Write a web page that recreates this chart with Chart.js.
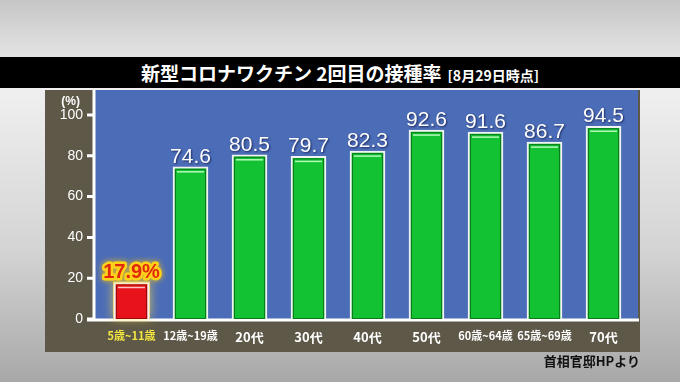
<!DOCTYPE html>
<html>
<head>
<meta charset="utf-8">
<script src="https://cdn.jsdelivr.net/npm/chart.js@4.4.0/dist/chart.umd.min.js"></script>
<style>
  html, body { margin: 0; padding: 0; }
  body {
    width: 680px; height: 382px; position: relative; overflow: hidden;
    background: linear-gradient(#c6c6c6 0px, #e4e4e4 57px, #f0f0f0 88px, #d4d4d4 250px, #a8a8a8 382px);
    font-family: "Noto Sans CJK JP", "Noto Sans", sans-serif;
  }
  #titleBar {
    position: absolute; left: 0; top: 57px; width: 680px; height: 31px;
    background: #000; color: #fff; text-align: center;
    font-weight: bold; font-size: 19px; line-height: 31px;
  }
  #titleBar small { font-size: 14px; margin-left: 6px; }
  #source {
    position: absolute; right: 40px; top: 351px;
    font-size: 13px; font-weight: bold; color: #111;
  }
  #chartBox { position: absolute; left: 0; top: 0; width: 680px; height: 382px; }
</style>
</head>
<body>
<div id="chartBox"><canvas id="vaxChart"></canvas></div>
<div id="titleBar">新型コロナワクチン 2回目の接種率<small>[8月29日時点]</small></div>
<div id="source">首相官邸HPより</div>

<script>
/* ------------------------------
   DATA
--------------------------------*/

const categories = ["5歳~11歳", "12歳~19歳", "20代", "30代", "40代", "50代", "60歳~64歳", "65歳~69歳", "70代"];
const rates = [17.9, 74.6, 80.5, 79.7, 82.3, 92.6, 91.6, 86.7, 94.5];
const yTicks = [0, 20, 40, 60, 80, 100];

const GREEN = "#12c232";
const RED = "#e8121a";

/* ------------------------------
   BACKGROUND PANELS + AXIS LINES
--------------------------------*/

const panelPlugin = {
    id: "panels",
    beforeDraw(chart) {
        const { ctx, chartArea: a } = chart;
        const yScale = chart.scales.y;
        ctx.save();
        // olive panel behind axes
        ctx.fillStyle = "#5d5848";
        ctx.fillRect(45, 90, 595, 262);
        // blue plot panel
        ctx.fillStyle = "#4b6cb7";
        ctx.fillRect(a.left - 7, 90, a.right - a.left + 12, a.bottom - 90);
        // axis lines
        ctx.strokeStyle = "#ffffff";
        ctx.lineWidth = 3;
        ctx.beginPath();
        ctx.moveTo(a.left - 8, 90);
        ctx.lineTo(a.left - 8, a.bottom + 1);
        ctx.moveTo(a.left - 15, a.bottom + 1);
        ctx.lineTo(a.right + 6, a.bottom + 1);
        yTicks.forEach(v => {
            const y = yScale.getPixelForValue(v);
            ctx.moveTo(a.left - 15, y);
            ctx.lineTo(a.left - 8, y);
        });
        ctx.stroke();
        // (%) unit
        ctx.fillStyle = "#ffffff";
        ctx.font = "bold 12px 'Liberation Sans', Arial, sans-serif";
        ctx.textAlign = "right";
        ctx.textBaseline = "middle";
        ctx.fillText("(%)", a.left - 22, yScale.getPixelForValue(100) - 13);
        ctx.restore();
    },
    beforeDatasetsDraw(chart) {
        // yellow glow around the highlighted bar
        const ctx = chart.ctx;
        const bar = chart.getDatasetMeta(0).data[0];
        ctx.save();
        ctx.shadowColor = "rgba(255, 220, 60, 0.9)";
        ctx.shadowBlur = 10;
        ctx.fillStyle = "rgba(255, 230, 120, 0.8)";
        ctx.fillRect(bar.x - bar.width / 2 - 1, bar.y - 1, bar.width + 2, bar.base - bar.y);
        ctx.restore();
    },
    afterDatasetsDraw(chart) {
        const ctx = chart.ctx;
        ctx.save();
        chart.getDatasetMeta(0).data.forEach((bar, i) => {
            const left = bar.x - bar.width / 2;
            // inner edge + highlight stripe
            ctx.strokeStyle = i === 0 ? "#9a0a0a" : "#0a7a1c";
            ctx.lineWidth = 1;
            ctx.strokeRect(left + 2.5, bar.y + 2.5, bar.width - 5, bar.base - bar.y - 3);
            ctx.strokeStyle = i === 0 ? "rgba(255,210,210,0.9)" : "rgba(200,255,200,0.9)";
            ctx.lineWidth = 1.5;
            ctx.beginPath();
            ctx.moveTo(left + 4, bar.y + 5);
            ctx.lineTo(left + bar.width - 4, bar.y + 5);
            ctx.stroke();

            // value label
            ctx.textAlign = "center";
            ctx.textBaseline = "alphabetic";
            if (i === 0) {
                ctx.font = "bold 20px 'Liberation Sans', Arial, sans-serif";
                ctx.lineJoin = "round";
                ctx.shadowColor = "rgba(255, 200, 0, 0.9)";
                ctx.shadowBlur = 6;
                ctx.strokeStyle = "#ffd21a";
                ctx.lineWidth = 5;
                ctx.strokeText(rates[i] + "%", bar.x, bar.y - 4);
                ctx.shadowBlur = 0;
                ctx.fillStyle = "#e0280e";
                ctx.fillText(rates[i] + "%", bar.x, bar.y - 4);
            } else {
                ctx.font = "21px 'Liberation Sans', Arial, sans-serif";
                ctx.shadowColor = "rgba(0,0,40,0.6)";
                ctx.shadowBlur = 2;
                ctx.shadowOffsetX = 1;
                ctx.shadowOffsetY = 1;
                ctx.fillStyle = "#ffffff";
                ctx.fillText(rates[i].toFixed(1), bar.x, bar.y - 4);
                ctx.shadowColor = "transparent";
                ctx.shadowOffsetX = 0;
                ctx.shadowOffsetY = 0;
            }
        });
        ctx.restore();
    }
};

/* ------------------------------
   CHART
--------------------------------*/

let vaxCtx = document.getElementById("vaxChart");

let vaxChart = new Chart(vaxCtx, {
    type: "bar",
    data: {
        labels: categories,
        datasets: [{
            data: rates,
            backgroundColor: rates.map((v, i) => i === 0 ? RED : GREEN),
            borderColor: "#f2f2f2",
            borderWidth: 2,
            barThickness: 35
        }]
    },
    options: {
        responsive: true,
        maintainAspectRatio: false,
        animation: false,
        layout: { padding: { left: 45, right: 47, top: 115, bottom: 30 } },
        plugins: {
            legend: { display: false },
            title: { display: false },
            tooltip: { enabled: false }
        },
        scales: {
            x: {
                grid: { display: false, drawTicks: false },
                border: { display: false },
                afterFit: s => { s.height = 33; },
                ticks: {
                    padding: 10,
                    maxRotation: 0,
                    autoSkip: false,
                    color: ctx => ctx.index === 0 ? "#f4e640" : "#ffffff",
                    font: ctx => ({
                        size: categories[ctx.index].includes("歳") ? 11 : 13,
                        weight: "bold",
                        family: "'Noto Sans CJK JP', sans-serif"
                    })
                }
            },
            y: {
                min: 0,
                max: 100,
                afterFit: s => { s.width = 57; },
                grid: { display: false, drawTicks: false },
                border: { display: false },
                afterBuildTicks: s => { s.ticks = yTicks.map(v => ({ value: v })); },
                ticks: {
                    padding: 19,
                    color: "#ffffff",
                    font: { size: 14, family: "'Liberation Sans', Arial, sans-serif" }
                }
            }
        }
    },
    plugins: [panelPlugin]
});
</script>
</body>
</html>
